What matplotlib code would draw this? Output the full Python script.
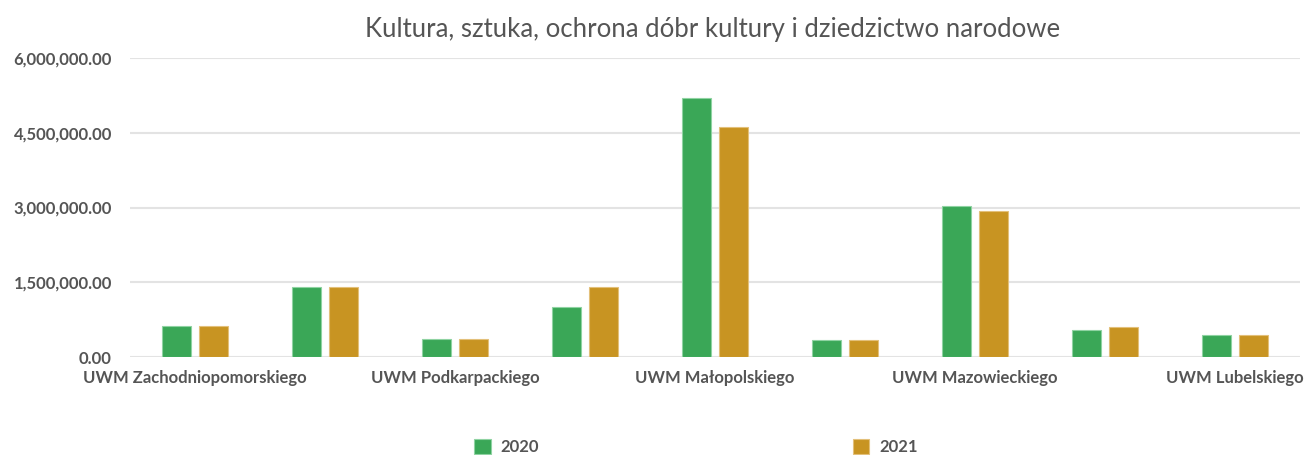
import matplotlib
matplotlib.use("Agg")
import matplotlib.pyplot as plt
import numpy as np
from matplotlib.ticker import FuncFormatter

plt.rcParams['font.family'] = ['Lato', 'DejaVu Sans']

title = "Kultura, sztuka, ochrona dóbr kultury i dziedzictwo narodowe"
tick_labels = ["UWM Zachodniopomorskiego", "", "UWM Podkarpackiego", "",
               "UWM Małopolskiego", "", "UWM Mazowieckiego", "", "UWM Lubelskiego"]
series_names = ["2020", "2021"]
values_2020 = [620000, 1395000, 360000, 995000, 5200000, 340000, 3040000, 540000, 447000]
values_2021 = [620000, 1395000, 360000, 1395000, 4620000, 340000, 2930000, 600000, 447000]
yticks = [0, 1500000, 3000000, 4500000, 6000000]

colors = ["#3AA757", "#C89422"]
edge_colors = ["#8fd3a2", "#e3c07a"]

fig = plt.figure(figsize=(13.06, 4.55), dpi=100)
ax = fig.add_axes([130/1306, 1-357/455, 1170/1306, (357-58)/455])

x = np.arange(len(tick_labels))
w = 0.225
off = 0.144
for vals, c, ec, name, d in zip([values_2020, values_2021], colors, edge_colors, series_names, [-off, off]):
    ax.bar(x + d, vals, width=w, color=c, edgecolor=ec, linewidth=0.8, label=name, zorder=3)

ax.set_xlim(-0.5, len(tick_labels) - 0.5)
ax.set_ylim(0, 6000000)
ax.set_yticks(yticks)
ax.yaxis.set_major_formatter(FuncFormatter(lambda v, p: f"{v:,.2f}"))
ax.grid(axis='y', color='#e3e3e3', linewidth=1.5, zorder=0)
ax.set_xticks(x)
ax.set_xticklabels(tick_labels)
for s in ax.spines.values():
    s.set_visible(False)
ax.tick_params(axis='both', length=0, colors='#555555', labelsize=12)
ax.tick_params(axis='y', pad=13)
ax.tick_params(axis='x', pad=9)
for t in ax.get_xticklabels() + ax.get_yticklabels():
    t.set_fontweight('bold')
    t.set_color('#555555')

fig.text(713/1306, 1-30/455, title, ha='center', va='center', fontsize=18.5, color='#555555')

fig.legend(loc='center', bbox_to_anchor=(696/1306, 1-447/455), ncol=2, frameon=False,
           handlelength=1.0, handleheight=1.0, handletextpad=0.6, columnspacing=18.8,
           prop={'size': 12, 'weight': 'bold'}, labelcolor='#555555')

fig.savefig("out.png", dpi=100)
